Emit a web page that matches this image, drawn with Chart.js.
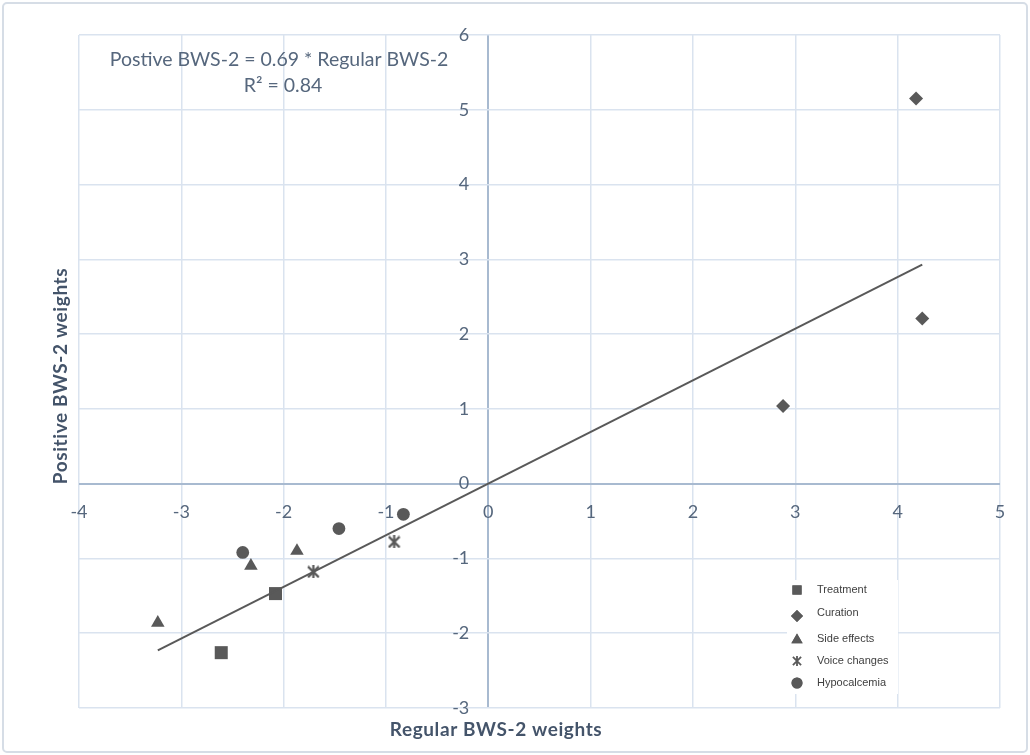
<!DOCTYPE html>
<html><head><meta charset="utf-8">
<script src="https://cdn.jsdelivr.net/npm/chart.js@4"></script>
<style>html,body{margin:0;padding:0;background:#fff}#wrap{width:1030px;height:755px;position:relative}</style>
</head><body><div id="wrap"><canvas id="c" width="1030" height="755"></canvas></div>
<script>
const treatmentX = [-2.08, -2.61];
const treatmentY = [-1.47, -2.26];
const curationX = [4.18, 4.24, 2.88];
const curationY = [5.15, 2.21, 1.04];
const sideEffectsX = [-3.23, -2.32, -1.87];
const sideEffectsY = [-1.86, -1.10, -0.90];
const voiceChangesX = [-1.71, -0.92];
const voiceChangesY = [-1.18, -0.78];
const hypocalcemiaX = [-2.40, -1.46, -0.83];
const hypocalcemiaY = [-0.92, -0.60, -0.41];
const trendX = [-3.23, 4.24];
const trendY = [-2.23, 2.93];
const xTicks = [-4, -3, -2, -1, 0, 1, 2, 3, 4, 5];
const yTicks = [-3, -2, -1, 0, 1, 2, 3, 4, 5, 6];
const seriesNames = ['Treatment', 'Curation', 'Side effects', 'Voice changes', 'Hypocalcemia'];
const equationLines = ['Postive BWS-2 = 0.69 * Regular BWS-2', 'R\u00B2 = 0.84'];
const xTitle = 'Regular BWS-2 weights';
const yTitle = 'Positive BWS-2 weights';

const MARK = '#595959';
const GRID = '#dae3ef';
const AXIS = '#a8bad0';
const pts = (xs, ys) => xs.map((x, i) => ({x, y: ys[i]}));

function starCanvas(size, lw) {
  const c = document.createElement('canvas');
  c.width = size; c.height = size;
  const g = c.getContext('2d');
  g.strokeStyle = MARK; g.lineWidth = lw; g.lineCap = 'butt';
  const m = lw / 2;
  g.beginPath();
  g.moveTo(m, m); g.lineTo(size - m, size - m);
  g.moveTo(size - m, m); g.lineTo(m, size - m);
  g.moveTo(size / 2, 0); g.lineTo(size / 2, size);
  g.stroke();
  return c;
}
const starImg = starCanvas(13, 2.2);
const starSmall = starCanvas(10, 1.8);

const ds = (label, data, style, r) => ({
  label, data, pointStyle: style, pointRadius: r, pointHoverRadius: r,
  backgroundColor: MARK, borderColor: MARK, borderWidth: 0, showLine: false
});

const overlay = {
  id: 'overlay',
  beforeDraw(chart) {
    const g = chart.ctx;
    g.save();
    g.fillStyle = '#fff';
    g.fillRect(0, 0, chart.width, chart.height);
    g.strokeStyle = '#d6dde6';
    g.lineWidth = 2;
    g.beginPath();
    g.roundRect(3, 3, 1024, 749, 4);
    g.stroke();
    g.restore();
  },
  afterDraw(chart) {
    const g = chart.ctx;
    g.save();
    // equation
    g.fillStyle = '#56677d';
    g.font = '19.5px Lato';
    g.textAlign = 'center';
    g.textBaseline = 'middle';
    g.fillText(equationLines[0], 279, 60);
    g.fillText(equationLines[1], 283, 86);
    // axis titles
    g.fillStyle = '#44546a';
    g.font = 'bold 19px Lato';
    g.letterSpacing = '0.6px';
    g.fillText(xTitle, 496, 730);
    g.translate(61, 376);
    g.rotate(-Math.PI / 2);
    g.fillText(yTitle, 0, 0);
    g.restore();
    // legend
    g.save();
    g.fillStyle = '#fff';
    g.fillRect(787, 580, 111, 114);
    const rowsY = [590, 613, 639, 661, 683];
    const styles = ['rect', 'rectRot', 'triangle', starSmall, 'circle'];
    const rads = [6.5, 6, 6.5, 5, 5.5];
    styles.forEach((st, i) => {
      g.fillStyle = MARK; g.strokeStyle = MARK;
      if (typeof st === 'string') {
        Chart.helpers.drawPoint(g, {pointStyle: st, radius: rads[i], borderWidth: 0}, 797, rowsY[i] + (i === 1 ? 3 : i === 2 ? 1 : 0));
        g.fill();
      } else {
        g.drawImage(st, 797 - st.width / 2, rowsY[i] - st.height / 2);
      }
      g.fillStyle = '#404040';
      g.font = '11px "Liberation Sans"';
      g.textAlign = 'left';
      g.textBaseline = 'middle';
      g.fillText(seriesNames[i], 817, rowsY[i]);
    });
    g.restore();
  }
};

const isZero = c => c.tick && c.tick.value === 0;

new Chart(document.getElementById('c'), {
  type: 'scatter',
  data: {
    datasets: [
      {label: 'trend', data: pts(trendX, trendY), showLine: true, borderColor: MARK, borderWidth: 2,
       pointRadius: 0, pointHoverRadius: 0, fill: false},
      ds(seriesNames[0], pts(treatmentX, treatmentY), 'rect', 9.2),
      ds(seriesNames[1], pts(curationX, curationY), 'rectRot', 7),
      ds(seriesNames[2], pts(sideEffectsX, sideEffectsY), 'triangle', 7.8),
      {label: seriesNames[3], data: pts(voiceChangesX, voiceChangesY), pointStyle: starImg, pointRadius: 6,
       backgroundColor: MARK, borderColor: MARK, showLine: false},
      ds(seriesNames[4], pts(hypocalcemiaX, hypocalcemiaY), 'circle', 6.4)
    ]
  },
  options: {
    responsive: false,
    devicePixelRatio: 1,
    animation: false,
    layout: {padding: {left: 79, top: 35, right: 30, bottom: 47}},
    plugins: {legend: {display: false}, tooltip: {enabled: false}},
    scales: {
      x: {
        type: 'linear', min: -4, max: 5,
        position: {y: 0},
        afterBuildTicks: s => { s.ticks = xTicks.map(v => ({value: v})); },
        grid: {color: c => isZero(c) ? AXIS : GRID, lineWidth: c => isZero(c) ? 2 : 1.5, drawTicks: false},
        border: {display: false},
        ticks: {color: '#56677d', font: {family: 'Lato', size: 18}, padding: 18, callback: v => String(v)}
      },
      y: {
        type: 'linear', min: -3, max: 6,
        position: {x: -0.186},
        afterBuildTicks: s => { s.ticks = yTicks.map(v => ({value: v})); },
        grid: {color: c => isZero(c) ? AXIS : GRID, lineWidth: c => isZero(c) ? 2 : 1.5, drawTicks: false},
        border: {display: false},
        ticks: {color: '#56677d', font: {family: 'Lato', size: 18}, padding: 0, callback: v => String(v)}
      }
    }
  },
  plugins: [overlay]
});
</script></body></html>
